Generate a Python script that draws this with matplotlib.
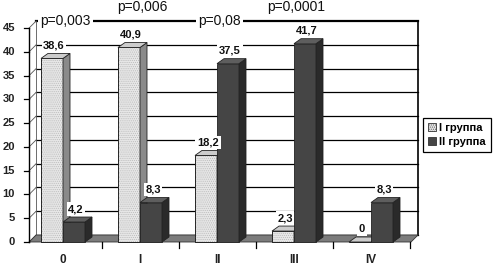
import matplotlib
matplotlib.use('Agg')
import matplotlib.pyplot as plt
from matplotlib.patches import Polygon, Patch

plt.rcParams['font.family'] = ['Liberation Sans', 'DejaVu Sans']
plt.rcParams['hatch.linewidth'] = 0.4

# ---- data ----
categories = ['0', 'I', 'II', 'III', 'IV']
group1 = [38.6, 40.9, 18.2, 2.3, 0]
group2 = [4.2, 8.3, 37.5, 41.7, 8.3]
group1_labels = ['38,6', '40,9', '18,2', '2,3', '0']
group2_labels = ['4,2', '8,3', '37,5', '41,7', '8,3']
series_names = ['I группа', 'II группа']
p_labels = ['p=0,003', 'p=0,006', 'p=0,08', 'p=0,0001']
p_high = [False, True, False, True]
yticks = [0, 5, 10, 15, 20, 25, 30, 35, 40, 45]

# ---- layout ----
W, H = 498, 266
fig = plt.figure(figsize=(W / 100, H / 100), dpi=100)
x0px, x1px = 24.5, 409.5      # data -0.5 .. 4.5
yb, yt = 24, 238              # data 0 .. 45 (pixels from bottom)
ax = fig.add_axes([x0px / W, yb / H, (x1px - x0px) / W, (yt - yb) / H])
ax.set_xlim(-0.5, 4.5)
ax.set_ylim(0, 45)
ax.axis('off')

sx = (x1px - x0px) / 5.0
sy = (yt - yb) / 45.0
wdx, wdy = 7 / sx, 7 / sy     # wall depth
bdx, bdy = 7 / sx, 5 / sy     # bar depth
xl, xr = -0.44, 4.52
ymax = 45
bw = 22 / sx

c1_front, c1_side, c1_top = '#e6e6e6', '#8a8a8a', '#cccccc'
c2_front, c2_side, c2_top = '#454545', '#2a2a2a', '#5e5e5e'
hatch1, hatch1_col = '........', '#b4b4b4'

# back wall
ax.add_patch(Polygon([(xl + wdx, wdy), (xr + wdx, wdy), (xr + wdx, ymax + wdy), (xl + wdx, ymax + wdy)],
                     closed=True, facecolor='white', edgecolor='none', zorder=0, clip_on=False))
for v in yticks:
    lw = 1.6 if v == ymax else 0.9
    ax.plot([xl + wdx, xr + wdx], [v + wdy, v + wdy], color='black', lw=lw, zorder=1, clip_on=False)
    ax.plot([xl, xl + wdx], [v, v + wdy], color='#555555', lw=0.6, zorder=1, clip_on=False)
ax.plot([xr + wdx, xr + wdx], [wdy, ymax + wdy], color='black', lw=1.2, zorder=1, clip_on=False)
ax.plot([xl + wdx, xl + wdx], [wdy, ymax + wdy], color='#555555', lw=0.6, zorder=1, clip_on=False)

# floor
ax.add_patch(Polygon([(xl, 0), (xr, 0), (xr + wdx, wdy), (xl + wdx, wdy)], closed=True,
                     facecolor='#7c7c7c', edgecolor='#333333', lw=0.6, zorder=2, clip_on=False))

# front-left axis line and ticks
ax.plot([xl, xl], [0, ymax], color='black', lw=1.0, zorder=3, clip_on=False)
for v in yticks:
    ax.plot([xl - 5 / sx, xl], [v, v], color='black', lw=0.9, zorder=3, clip_on=False)
    ax.text(xl - 14 / sx, v, str(v), ha='right', va='center', fontsize=8, fontweight='bold',
            color='#222222', clip_on=False)

# x tick marks and category labels
for i in range(len(categories)):
    xt = i + 0.5
    ax.plot([xt, xt], [0, -6 / sy], color='black', lw=0.9, zorder=3, clip_on=False)
    ax.text(i, -18 / sy, categories[i], ha='center', va='center', fontsize=8.5,
            fontweight='bold', color='#222222', clip_on=False)


def draw_bar(x, h, front, side, top, hatch, z):
    ax.bar([x], [h], width=bw, align='edge', bottom=0, color=front, edgecolor='#222222',
           lw=0.6, zorder=z, clip_on=False)
    if hatch:
        ax.bar([x], [h], width=bw, align='edge', bottom=0, color='none', edgecolor=hatch1_col,
               hatch=hatch, lw=0, zorder=z + 0.1, clip_on=False)
        ax.bar([x], [h], width=bw, align='edge', bottom=0, color='none', edgecolor='#222222',
               lw=0.6, zorder=z + 0.15, clip_on=False)
    xrgt = x + bw
    ax.add_patch(Polygon([(xrgt, 0), (xrgt + bdx, bdy), (xrgt + bdx, h + bdy), (xrgt, h)], closed=True,
                         facecolor=side, edgecolor='#222222', lw=0.6, zorder=z + 0.2, clip_on=False))
    ax.add_patch(Polygon([(x, h), (xrgt, h), (xrgt + bdx, h + bdy), (x + bdx, h + bdy)], closed=True,
                         facecolor=top, edgecolor='#222222', lw=0.6, zorder=z + 0.2, clip_on=False))


z = 4
for i in range(len(categories)):
    draw_bar(i - bw, group1[i], c1_front, c1_side, c1_top, hatch1, z)
    z += 1
    draw_bar(i, group2[i], c2_front, c2_side, c2_top, None, z)
    z += 1

# value labels
for i in range(len(categories)):
    for xx, h, lab in [(i - bw / 2, group1[i], group1_labels[i]), (i + bw / 2, group2[i], group2_labels[i])]:
        ax.text(xx + 2 / sx, h + 13 / sy, lab, ha='center', va='center', fontsize=8, fontweight='bold',
                color='#111111', zorder=50, clip_on=False,
                bbox=dict(facecolor='white', edgecolor='none', pad=1.2))

# p-value labels
for i, (lab, hi) in enumerate(zip(p_labels, p_high)):
    yy = 49.4 if hi else ymax + wdy
    ax.text(i + 0.03, yy, lab, ha='center', va='center', fontsize=10, color='#111111',
            zorder=50, clip_on=False, bbox=dict(facecolor='white', edgecolor='none', pad=1.5))

# legend
handles = [Patch(facecolor=c1_front, edgecolor='#333333', hatch=hatch1, lw=0.6),
           Patch(facecolor=c2_front, edgecolor='#333333', lw=0.6)]
leg = fig.legend(handles, series_names, loc='upper left', bbox_to_anchor=(423 / W, 1 - 118 / H),
                 borderaxespad=0, fancybox=False, edgecolor='black', framealpha=1,
                 handlelength=0.7, handleheight=0.7, handletextpad=0.3, borderpad=0.45,
                 labelspacing=0.35, prop={'size': 8, 'weight': 'bold'})
leg.get_frame().set_linewidth(0.9)

fig.savefig('out.png', dpi=100)
